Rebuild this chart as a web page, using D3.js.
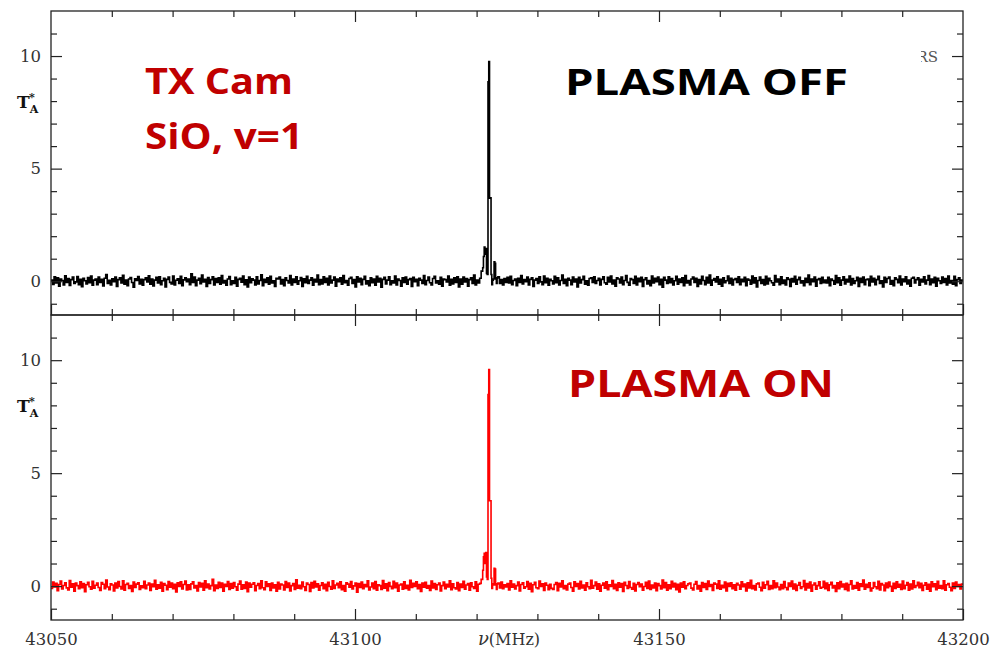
<!DOCTYPE html>
<html>
<head>
<meta charset="utf-8">
<script src="https://cdn.jsdelivr.net/npm/d3@7"></script>
<style>
body{margin:0;background:#fff}
</style>
</head>
<body>
<div id="chart"></div>
<script>
// frequency axis, MHz
var freqStart = 43050, freqEnd = 43200
var baseWidth = 0.25          // channel width of the noise parts
var lineStart = 43121         // finer channels across the maser line
var lineWidth = 0.125

var xTicksMajor = [43050, 43100, 43150, 43200]
var xTicksMinor = [43060, 43070, 43080, 43090, 43110, 43120, 43130, 43140, 43160, 43170, 43180, 43190]
var yTicksMajor = [0, 5, 10]
var yTicksMinor = [-1, 1, 2, 3, 4, 6, 7, 8, 9, 11]

// plasma off, T*A in hundredths of K, channels below the line
var offLow = [
 5,-14,20,-8,15,-22,10,3,-17,24,-5,12,-19,7,18,-10,-3,21,-15,8,-24,13,2,-12,16,-7,23,-18,5,10,
 -15,19,-5,8,-21,13,30,-10,4,-17,11,-2,18,-23,7,15,-8,26,-13,5,-20,10,16,-6,-27,11,3,21,-12,8,
 -18,7,15,-3,24,-13,10,-21,5,17,-8,20,-15,2,13,-25,8,18,-5,-12,23,-17,4,11,-10,22,-20,6,15,-2,
 10,-15,33,-6,18,-20,5,13,-11,27,-3,8,-23,16,-10,7,20,-17,12,-5,15,-13,25,-8,3,-18,10,21,-15,2,
 -10,17,-22,8,13,-4,23,-15,6,-25,18,-7,11,5,-16,20,-12,3,28,-20,8,-5,15,-13,22,-8,2,-23,13,10,
 18,-12,7,-20,15,3,-8,25,-17,10,-5,20,-13,2,16,-23,11,-7,22,-10,5,15,-18,8,-3,27,-15,7,-12,20,
 -5,13,-17,23,-8,5,18,-22,10,-2,15,-13,25,-7,3,-18,12,17,-10,7,-25,20,-3,13,-15,8,22,-12,2,-20,
 15,-7,10,-18,22,-3,13,-27,8,17,-12,5,20,-15,2,-8,23,-17,10,3,-22,15,-5,18,-13,7,12,-23,17,-2,
 8,-20,13,5,-10,25,-15,3,18,-7,-17,12,22,-8,2,-13,17,-22,10,7,-3,23,-18,8,-12,15,-5,20,-25,10,
 -13,18,-3,12,-22,7,15,-10,27,-17,5,-8,13,45
]
// plasma off, K, fine channels from 43121 MHz
var offLine = [0.6, 1.1, 1.52, 1.2, 1.45, 0.35, 0.3, 8.86, 9.75, 3.69, 3.7, 0.3, -0.15, 0.05, 0.1, 0.86, 0.8, 0.1, -0.1, 0.15]
// plasma off, hundredths of K, channels above the line
var offHigh = [
 20,-10,7,-17,12,-5,
 17,-8,22,-15,3,10,-20,13,-5,25,-12,7,-2,18,-17,8,15,-23,5,12,-10,20,-3,-15,23,-7,13,-18,8,2,
 -12,22,-7,15,-17,3,27,-10,8,-20,13,5,-15,18,-3,10,-25,17,-8,7,22,-13,2,-18,12,15,-5,20,-10,3,
 13,-17,8,20,-7,-13,17,-3,23,-12,5,-22,15,10,-8,18,-15,3,25,-5,-18,12,7,-10,22,-17,13,-2,17,-23,
 7,15,-12,3,-20,23,-8,13,-2,18,-15,8,-27,17,5,-10,20,-7,12,-17,2,22,-13,10,-5,15,-20,25,-8,3,
 -17,10,18,-5,13,-23,7,-12,22,3,-15,17,-8,27,-18,5,12,-3,20,-13,8,-22,15,-7,2,23,-10,13,-17,7,
 12,-5,20,-15,8,-2,17,-20,10,5,-13,23,-8,15,-25,3,18,-10,7,-17,22,-12,13,2,-7,-18,25,-3,10,-15,
 20,-10,5,-17,15,8,-23,12,-3,22,-13,7,17,-8,2,-20,13,-5,27,-15,10,-2,18,-22,7,12,-10,17,-7,5,
 -8,17,-20,10,3,-13,25,-7,15,-18,5,20,-12,8,-3,23,-17,12,-10,2,17,-23,13,-5,18,-15,7,10,-20,22,
 -3,13,-15,7,22,-10,2,-25,17,-5,12,18,-13,3,-20,15,8,-7,23,-17,10,-2,20,-12,5,-22,13,17,-8,7,
 15,-18,8,-3,20,-12,5,25,-15,10,-7,17,-22,13,2,-10,18,-5,12,-17,23,-8,3,-13,22,-20,7,15,-10,5
]

// plasma on
var onLow = [
 -10,18,-4,12,-20,7,22,-13,3,15,-8,-17,25,-5,10,-22,14,2,-12,19,-7,11,-25,6,17,-3,-14,21,-9,4,
 13,-6,-19,16,8,-11,27,-4,-16,10,5,-21,14,-8,20,-2,-13,23,-18,7,12,-10,3,-24,18,-6,9,15,-15,1,
 -7,21,-12,5,14,-19,9,-3,26,-14,6,-9,17,-22,11,4,-16,20,-5,13,-11,8,-26,15,-2,19,-13,7,22,-17,
 6,-15,10,19,-8,3,-21,16,-4,12,-18,24,-7,9,-13,2,30,-20,5,-10,17,-6,13,-23,8,-1,20,-15,11,-9,
 16,-3,-18,9,22,-14,6,-10,18,-25,13,-5,8,15,-20,3,11,-12,24,-7,-16,19,-2,10,-19,14,-8,6,-22,17,
 -13,9,5,-17,20,-6,14,-21,2,11,-15,28,-9,4,-12,18,-3,-19,13,7,-24,16,-8,21,-4,10,-18,3,15,-11,
 8,-20,17,-2,-14,23,-10,5,12,-7,19,-16,3,-22,15,9,-5,20,-13,1,14,-27,11,-6,18,-12,7,-3,24,-17,
 -4,14,-11,20,-18,6,2,-15,25,-9,10,-20,16,-1,-12,21,-7,13,-23,5,9,-14,19,-10,4,-17,26,-6,12,-2,
 19,-12,7,-24,13,-5,17,-9,3,-19,22,-8,11,-15,6,14,-21,2,18,-11,8,-4,23,-16,10,-7,-13,16,-20,9,
 -6,21,-14,5,11,-18,15,-3,-10,19,-22,8,12,30
]
var onLine = [0.7, 1.3, 1.45, 1.0, 1.48, 0.4, 0.3, 8.48, 9.59, 3.78, 3.78, 0.35, -0.1, 0.1, 0.05, 0.79, 0.75, 0.05, -0.15, 0.1]
var onHigh = [
 14,-8,18,-12,6,-4,
 11,-17,23,-5,9,-13,2,18,-21,7,15,-9,-3,20,-14,12,-25,6,17,-7,-11,22,-2,10,-19,13,4,-16,8,-10,
 -15,7,16,-20,12,-4,24,-11,3,-17,9,14,-6,-22,19,-1,11,-13,21,-8,5,-18,15,-3,-12,26,-9,2,18,-14,
 10,-22,4,13,-9,19,-16,6,-2,25,-12,8,-19,15,-5,11,-24,17,3,-10,20,-6,-14,12,-21,7,16,-3,9,-18,
 -2,17,-10,22,-15,5,-8,13,-20,11,2,-13,27,-7,16,-18,6,-11,21,-4,12,-16,8,-26,14,-5,19,-12,3,10,
 14,-9,-17,8,20,-13,3,-23,16,-6,11,-15,22,-2,7,-19,13,9,-10,24,-14,4,-7,18,-21,12,-1,15,-11,6,
 -18,12,5,-14,19,-3,9,-21,15,-8,26,-12,2,-17,10,13,-5,-20,17,-9,6,21,-15,3,-11,23,-7,14,-4,-16,
 7,-11,20,-6,-16,14,-1,22,-13,9,-19,4,16,-10,-3,25,-17,11,-8,18,-22,5,13,-14,2,19,-9,-5,21,-12,
 13,-19,6,17,-8,2,-24,15,-11,20,-4,9,-15,12,-20,7,23,-13,3,-9,16,-18,10,-2,27,-14,8,-6,15,-21,
 -9,16,-3,-12,21,-17,11,5,-20,14,-7,18,-1,-23,12,-10,19,-5,8,-15,22,-11,4,16,-18,9,-13,24,-6,2,
 17,-7,12,-19,4,15,-14,8,-22,19,-3,10,-16,21,-9,3,-12,24,-18,6,11,-5,-20,14,-10,18,-2,7,-13,9
]

var width = 992
var height = 649
var left = 51, right = 963

var svg = d3.select("#chart").append("svg")
	.attr("width", width).attr("height", height)
	.style("display", "block")

var xScale = d3.scaleLinear().domain([freqStart, freqEnd]).range([left, right])

// glue the three parts into one list of channel starts
function buildSpectrum(low, line, high){
	var pts = []
	low.forEach(function(v, i){
		pts.push({f: lineStart - (low.length - i) * baseWidth, t: v / 100})
	})
	line.forEach(function(v, i){
		pts.push({f: lineStart + i * lineWidth, t: v})
	})
	var highStart = lineStart + line.length * lineWidth
	high.forEach(function(v, i){
		pts.push({f: highStart + i * baseWidth, t: v / 100})
	})
	pts.push({f: highStart + high.length * baseWidth, t: high[high.length - 1] / 100})
	return pts
}

var panels = [
	{top: 11, bottom: 315, data: buildSpectrum(offLow, offLine, offHigh), color: "#000", labels: false},
	{top: 315, bottom: 620, data: buildSpectrum(onLow, onLine, onHigh), color: "#ff0000", labels: true}
]

var tickColor = "#222"
var serif = "'DejaVu Serif', serif"

function styleAxis(g){
	g.select(".domain").remove()
	g.selectAll("line").attr("stroke", tickColor).attr("stroke-width", 1.2)
	g.selectAll("text").attr("fill", "#333").attr("font-family", serif).attr("font-size", "16.5px")
}

panels.forEach(function(p, k){
	var yScale = d3.scaleLinear().domain([-1.5, 12]).range([p.bottom, p.top])

	// the spectrum, clipped to the box
	svg.append("clipPath").attr("id", "clip" + k)
		.append("rect")
		.attr("x", left).attr("y", p.top)
		.attr("width", right - left).attr("height", p.bottom - p.top)

	var line = d3.line()
		.x(function(d){ return xScale(d.f) })
		.y(function(d){ return yScale(d.t) })
		.curve(d3.curveStepAfter)

	svg.append("path")
		.datum(p.data)
		.attr("clip-path", "url(#clip" + k + ")")
		.attr("d", line)
		.attr("fill", "none")
		.attr("stroke", p.color)
		.attr("stroke-width", 1.6)

	// y ticks, inward on both sides
	svg.append("g").attr("transform", "translate(" + left + ",0)")
		.call(d3.axisLeft(yScale).tickValues(yTicksMajor).tickSize(-11).tickPadding(10).tickFormat(d3.format("d")))
		.call(styleAxis)
	svg.append("g").attr("transform", "translate(" + left + ",0)")
		.call(d3.axisLeft(yScale).tickValues(yTicksMinor).tickSize(-6).tickFormat(""))
		.call(styleAxis)
	svg.append("g").attr("transform", "translate(" + right + ",0)")
		.call(d3.axisRight(yScale).tickValues(yTicksMajor).tickSize(-11).tickFormat(""))
		.call(styleAxis)
	svg.append("g").attr("transform", "translate(" + right + ",0)")
		.call(d3.axisRight(yScale).tickValues(yTicksMinor).tickSize(-6).tickFormat(""))
		.call(styleAxis)

	// x ticks top and bottom of each box
	svg.append("g").attr("transform", "translate(0," + p.top + ")")
		.call(d3.axisTop(xScale).tickValues(xTicksMajor.slice(1, 3)).tickSize(-11).tickFormat(""))
		.call(styleAxis)
	svg.append("g").attr("transform", "translate(0," + p.top + ")")
		.call(d3.axisTop(xScale).tickValues(xTicksMinor).tickSize(-6).tickFormat(""))
		.call(styleAxis)
	svg.append("g").attr("transform", "translate(0," + p.bottom + ")")
		.call(d3.axisBottom(xScale).tickValues(xTicksMajor).tickSize(-11).tickPadding(13)
			.tickFormat(p.labels ? d3.format("d") : ""))
		.call(styleAxis)
	svg.append("g").attr("transform", "translate(0," + p.bottom + ")")
		.call(d3.axisBottom(xScale).tickValues(xTicksMinor).tickSize(-6).tickFormat(""))
		.call(styleAxis)

	// box
	svg.append("rect")
		.attr("x", left).attr("y", p.top)
		.attr("width", right - left).attr("height", p.bottom - p.top)
		.attr("fill", "none").attr("stroke", tickColor).attr("stroke-width", 1.3)

	// T*A label
	var ty = yScale(10) + 52
	var lab = svg.append("text")
		.attr("x", 17).attr("y", ty)
		.attr("font-family", serif).attr("font-weight", "bold").attr("fill", "#111")
	lab.append("tspan").attr("font-size", "17px").text("T")
	lab.append("tspan").attr("font-size", "11px").attr("dy", 5).text("A")
	svg.append("text")
		.attr("x", 29).attr("y", ty - 7)
		.attr("font-family", serif).attr("font-weight", "bold").attr("font-size", "11px").attr("fill", "#111")
		.text("*")
})

// frequency label between the tick labels
var xl = svg.append("text")
	.attr("x", 509).attr("y", 645)
	.attr("text-anchor", "middle")
	.attr("font-family", serif).attr("fill", "#333")
xl.append("tspan").attr("font-style", "italic").attr("font-size", "18px").text("ν")
xl.append("tspan").attr("font-size", "16px").text("(MHz)")

// leftover of the original plot caption, half hidden
svg.append("clipPath").attr("id", "clipRS")
	.append("rect").attr("x", 921).attr("y", 40).attr("width", 30).attr("height", 30)
svg.append("text")
	.attr("clip-path", "url(#clipRS)")
	.attr("x", 938).attr("y", 62)
	.attr("text-anchor", "end")
	.attr("font-family", serif).attr("font-size", "15px").attr("fill", "#555")
	.text("RS")

// slide annotations
var red = "#c00000"
var notes = [
	{text: "TX Cam", x: 145, y: 93.5, size: 36, len: 148, color: red},
	{text: "SiO, v=1", x: 145, y: 148.5, size: 36, len: 158, color: red},
	{text: "PLASMA OFF", x: 565, y: 94.5, size: 36.5, len: 283, color: "#000"},
	{text: "PLASMA ON", x: 568, y: 396.5, size: 37, len: 266, color: red}
]
svg.selectAll(".note")
	.data(notes)
	.enter().append("text")
	.attr("class", "note")
	.attr("x", function(d){ return d.x })
	.attr("y", function(d){ return d.y })
	.attr("font-family", "'Open Sans', sans-serif")
	.attr("font-weight", "bold")
	.attr("font-size", function(d){ return d.size + "px" })
	.attr("textLength", function(d){ return d.len })
	.attr("lengthAdjust", "spacingAndGlyphs")
	.attr("fill", function(d){ return d.color })
	.text(function(d){ return d.text })
</script>
</body>
</html>
